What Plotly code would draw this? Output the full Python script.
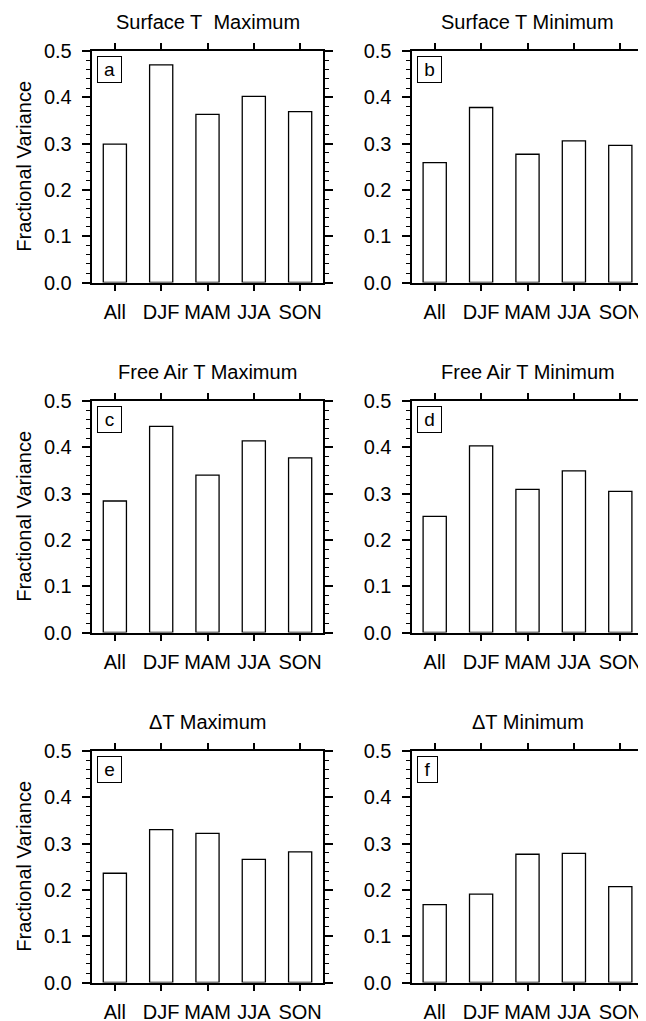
import plotly.graph_objects as go

seasons = ["All", "DJF", "MAM", "JJA", "SON"]
titles = ["Surface T\u00a0 Maximum", "Surface T Minimum",
          "Free Air T Maximum", "Free Air T Minimum",
          "\u0394T Maximum", "\u0394T Minimum"]
letters = ["a", "b", "c", "d", "e", "f"]

surf_max = [0.299, 0.470, 0.363, 0.402, 0.369]
surf_min = [0.259, 0.378, 0.277, 0.306, 0.296]
free_max = [0.284, 0.445, 0.340, 0.414, 0.377]
free_min = [0.251, 0.403, 0.309, 0.349, 0.305]
dt_max = [0.236, 0.330, 0.322, 0.266, 0.282]
dt_min = [0.168, 0.191, 0.277, 0.279, 0.207]
series = [surf_max, surf_min, free_max, free_min, dt_max, dt_min]

yticks = [0.0, 0.1, 0.2, 0.3, 0.4, 0.5]
ytick_text = ["0.0", "0.1", "0.2", "0.3", "0.4", "0.5"]

# page is 646x1021; the html body has an 8px margin, so the figure starts at (8, 8)
PW, PH = 646, 1021
OX, OY = 8, 8
W, H = PW - OX, PH - OY
FONT = "Liberation Sans, Arial, Helvetica, sans-serif"
FS = 20
xdoms = [(91.7, 323.3), (411.5, 643.5)]   # page px
tops = [51, 401, 751]                      # page px
ph = 231.5


def fx(p):
    return (p - OX) / W


def fy(p):
    return 1 - (p - OY) / H


fig = go.Figure()
layout = dict(
    width=W, height=H,
    margin=dict(l=0, r=0, t=0, b=0, pad=0, autoexpand=False),
    paper_bgcolor="white", plot_bgcolor="white", showlegend=False,
    font=dict(family=FONT, size=FS, color="black"),
    bargap=0.5,
)
annotations = []
letter_w = {"a": 23, "b": 23, "c": 23, "d": 23, "e": 23, "f": 19}

for i, vals in enumerate(series):
    n = i + 1
    row, col = divmod(i, 2)
    xd = xdoms[col]
    top = tops[row]
    bot = top + ph
    xs = "" if n == 1 else str(n)
    fig.add_trace(go.Bar(
        x=list(range(len(seasons))), y=vals, width=0.5,
        marker=dict(color="white", line=dict(color="black", width=1.3)),
        xaxis="x" + xs, yaxis="y" + xs, hoverinfo="skip",
    ))
    layout["xaxis" + xs] = dict(
        domain=[fx(xd[0]), min(fx(xd[1]), 1.0)], anchor="y" + xs,
        range=[-0.5, 4.5], tickmode="array",
        tickvals=list(range(len(seasons))), ticktext=seasons,
        ticks="outside", ticklen=6, tickwidth=2, tickcolor="black",
        showline=True, linewidth=2, linecolor="black", mirror="ticks",
        showgrid=False, zeroline=False, fixedrange=True, automargin=False,
        tickfont=dict(family=FONT, size=FS, color="black"),
        ticklabelstandoff=4,
    )
    layout["yaxis" + xs] = dict(
        domain=[fy(bot), fy(top)], anchor="x" + xs,
        range=[0, 0.5], tickmode="array", tickvals=yticks, ticktext=ytick_text,
        ticks="outside", ticklen=8, tickwidth=2, tickcolor="black",
        minor=dict(dtick=0.02, tick0=0, ticks="outside", ticklen=4,
                   tickwidth=1, tickcolor="black", showgrid=False),
        showline=True, linewidth=2, linecolor="black", mirror="ticks",
        showgrid=False, zeroline=False, fixedrange=True, automargin=False,
        tickfont=dict(family=FONT, size=FS, color="black"),
        ticklabelstandoff=6,
    )
    annotations.append(dict(
        text=titles[i], xref="x" + xs + " domain", yref="y" + xs + " domain",
        x=0.5, y=1, xanchor="center", yanchor="middle", yshift=29,
        showarrow=False, font=dict(family=FONT, size=FS, color="black"),
    ))
    annotations.append(dict(
        text=letters[i], xref="x" + xs + " domain", yref="y" + xs + " domain",
        x=0, y=1, xanchor="left", yanchor="top", xshift=5, yshift=-5,
        showarrow=False, font=dict(family=FONT, size=19, color="black"),
        bordercolor="black", borderwidth=1, borderpad=0,
        width=letter_w[letters[i]], height=25, bgcolor="white",
    ))
    if col == 0:
        annotations.append(dict(
            text="Fractional Variance", xref="paper", yref="paper",
            x=fx(24), y=fy(top + ph / 2), xanchor="center", yanchor="middle",
            textangle=-90, showarrow=False,
            font=dict(family=FONT, size=FS, color="black"),
        ))

layout["annotations"] = annotations
fig.update_layout(**layout)
fig.write_html("out.html")
